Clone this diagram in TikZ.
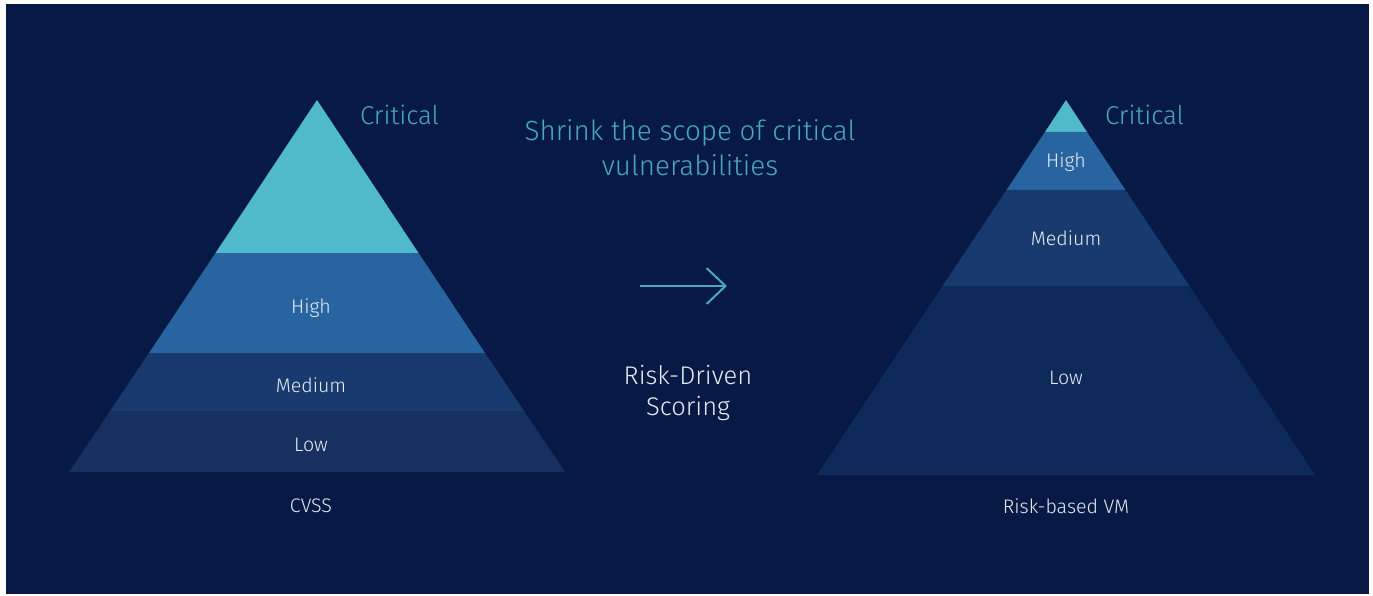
\documentclass[tikz,border=0pt]{standalone}
\usepackage{fontspec}
\setmainfont{Fira Sans}[UprightFont=* Light]
\usetikzlibrary{arrows.meta}
\definecolor{bgnavy}{HTML}{071A45}
\definecolor{critc}{HTML}{50B9CC}
\definecolor{highc}{HTML}{2764A0}
\definecolor{medc}{HTML}{183A6E}
\definecolor{lowl}{HTML}{163160}
\definecolor{lowr}{HTML}{0E2A5A}
\definecolor{teal}{HTML}{4AA8C2}
\definecolor{wtext}{HTML}{E8ECF2}
\tikzset{
  lvl/.style={text=wtext, font=\fontsize{19.6}{22}\selectfont, inner sep=0pt},
  critlbl/.style={text=teal, font=\fontsize{25.8}{28}\selectfont, inner sep=0pt},
  headlbl/.style={text=teal, font=\fontsize{27.8}{35}\selectfont, inner sep=0pt, align=center},
  midlbl/.style={text=wtext, font=\fontsize{25.5}{31}\selectfont, inner sep=0pt, align=center},
}
\begin{document}
\begin{tikzpicture}[x=1pt,y=-1pt]
\useasboundingbox (0,0) rectangle (1373,596);
\fill[white] (0,0) rectangle (1373,596);
\fill[bgnavy] (6,4) rectangle (1369,594);
% left pyramid
\fill[critc] (317,100) -- (418.5,253) -- (215.5,253) -- cycle;
\fill[highc] (215.5,253) -- (418.5,253) -- (485,353) -- (149,353) -- cycle;
\fill[medc] (149,353) -- (485,353) -- (524,411) -- (110,411) -- cycle;
\fill[lowl] (110,411) -- (524,411) -- (565,472) -- (69,472) -- cycle;
% right pyramid
\fill[critc] (1066,100) -- (1087,132) -- (1045,132) -- cycle;
\fill[highc] (1045,132) -- (1087,132) -- (1125.5,190) -- (1006.5,190) -- cycle;
\fill[medc] (1006.5,190) -- (1125.5,190) -- (1189.5,286) -- (942.5,286) -- cycle;
\fill[lowr] (942.5,286) -- (1189.5,286) -- (1315,475) -- (817,475) -- cycle;
% labels left
\node[critlbl, anchor=west] (lcrit) at (360,115) {Critical};
\node[lvl] (lhigh) at (311,308) {High};
\node[lvl] (lmed) at (311,385) {Medium};
\node[lvl] (llow) at (311,445) {Low};
\node[lvl] (lcvss) at (311,506) {CVSS};
% labels right
\node[critlbl, anchor=west] (rcrit) at (1105,115) {Critical};
\node[lvl] (rhigh) at (1066,162) {High};
\node[lvl] (rmed) at (1066,238) {Medium};
\node[lvl] (rlow) at (1066,378) {Low};
\node[lvl] (rvm) at (1066,506) {Risk-based VM};
% middle
\node[headlbl] (head) at (690,148) {Shrink the scope of critical\\vulnerabilities};
\node[midlbl] (risk) at (688,393) {Risk-Driven\\Scoring};
\coordinate (arrs) at (640,286);
\coordinate (arre) at (727,286);
\draw[teal, line width=2pt, -{Straight Barb[length=19pt, width=36pt, line width=2pt]}] (arrs) -- (arre);
\end{tikzpicture}
\end{document}
